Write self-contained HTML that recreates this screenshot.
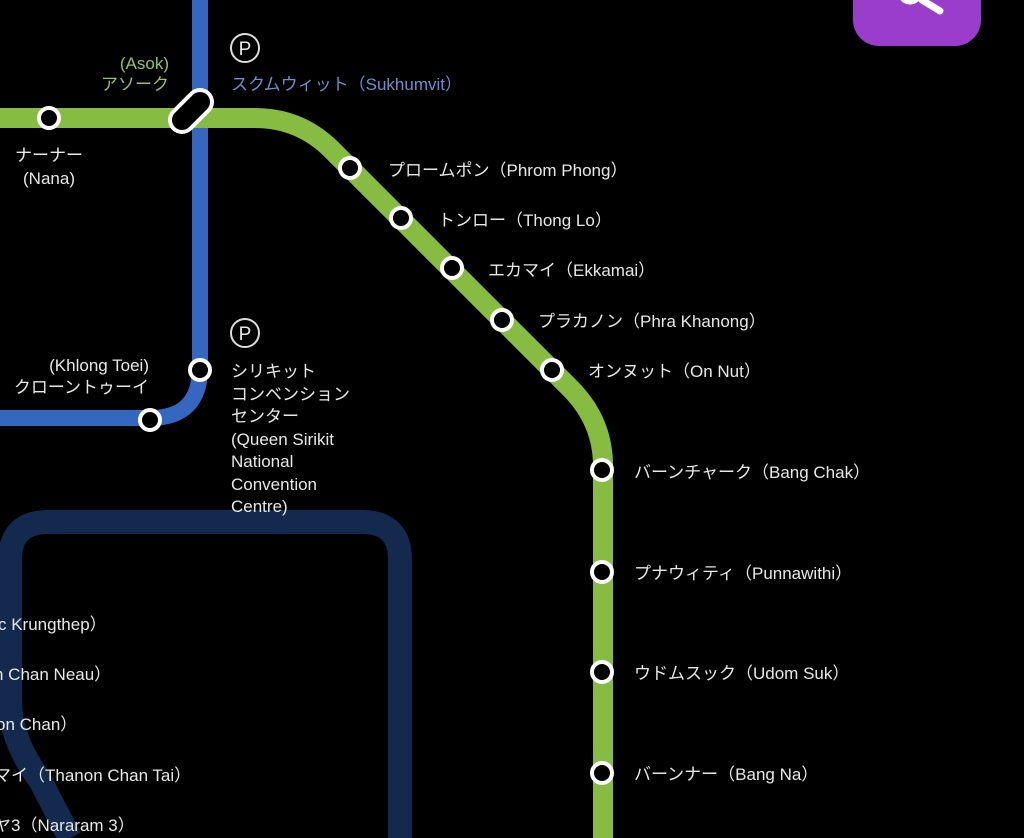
<!DOCTYPE html>
<html><head><meta charset="utf-8"><style>
html,body{margin:0;padding:0;background:#000;width:1024px;height:838px;overflow:hidden}
svg{display:block}
text{font-family:"Liberation Sans","Noto Sans CJK JP",sans-serif;font-size:17px;fill:#e8e8e8}
</style></head><body>
<svg width="1024" height="838" viewBox="0 0 1024 838">
<path d="M400 838 V560 Q400 522 362 522 H48 Q10 522 10 560 V700 Q10 740 40 780 L70 838" fill="none" stroke="#13294d" stroke-width="24"/>
<path d="M200 0 V368 Q200 418 150 418 H0" fill="none" stroke="#3566c0" stroke-width="16"/>
<path d="M0 118 H255 Q300 118 332 150 L570 388 Q603 421 603 466 V838" fill="none" stroke="#86bc42" stroke-width="20"/>
<g fill="#000" stroke="#fff" stroke-width="4">
<circle cx="49" cy="118" r="10"/>
<circle cx="350" cy="168" r="10"/>
<circle cx="401" cy="218" r="10"/>
<circle cx="452" cy="268" r="10"/>
<circle cx="502" cy="320" r="10"/>
<circle cx="552" cy="370" r="10"/>
<circle cx="602" cy="470" r="10"/>
<circle cx="602" cy="572" r="10"/>
<circle cx="602" cy="672" r="10"/>
<circle cx="602" cy="773" r="10"/>
<circle cx="200" cy="370" r="10"/>
<circle cx="150" cy="420" r="10"/>
</g>
<path d="M182 120 L200 102" stroke="#fff" stroke-width="28" stroke-linecap="round"/>
<path d="M182 120 L200 102" stroke="#000" stroke-width="20" stroke-linecap="round"/>
<g fill="none" stroke="#ddd" stroke-width="2"><circle cx="245" cy="48" r="14"/><circle cx="245" cy="333" r="14"/></g>
<text x="245" y="55" text-anchor="middle" style="font-size:19px">P</text>
<text x="245" y="340" text-anchor="middle" style="font-size:19px">P</text>
<text x="169" y="69" text-anchor="end" style="fill:#9ac060">(Asok)</text>
<text x="169" y="90" text-anchor="end" style="fill:#9ac060">アソーク</text>
<text x="231" y="90" style="fill:#6f8fd0">スクムウィット（Sukhumvit）</text>
<text x="49" y="161" text-anchor="middle">ナーナー</text>
<text x="49" y="184" text-anchor="middle">(Nana)</text>
<text x="388" y="176">プロームポン（Phrom Phong）</text>
<text x="438" y="226">トンロー（Thong Lo）</text>
<text x="488" y="276">エカマイ（Ekkamai）</text>
<text x="538" y="327">プラカノン（Phra Khanong）</text>
<text x="588" y="377">オンヌット（On Nut）</text>
<text x="634" y="478">バーンチャーク（Bang Chak）</text>
<text x="634" y="579">プナウィティ（Punnawithi）</text>
<text x="634" y="679">ウドムスック（Udom Suk）</text>
<text x="634" y="780">バーンナー（Bang Na）</text>
<text x="149" y="371" text-anchor="end">(Khlong Toei)</text>
<text x="149" y="393" text-anchor="end">クローントゥーイ</text>
<text x="231" y="377">シリキット</text>
<text x="231" y="400">コンベンション</text>
<text x="231" y="422">センター</text>
<text x="231" y="445">(Queen Sirikit</text>
<text x="231" y="467">National</text>
<text x="231" y="490">Convention</text>
<text x="231" y="512">Centre)</text>
<text x="-2" y="630">c Krungthep）</text>
<text x="-6" y="680">n Chan Neau）</text>
<text x="-4" y="730">on Chan）</text>
<text x="-6" y="781">マイ（Thanon Chan Tai）</text>
<text x="-6" y="831">ヤ3（Nararam 3）</text>
<rect x="853" y="-40" width="128" height="86" rx="26" fill="#9a3ccc"/>
<circle cx="910" cy="-8" r="10" fill="none" stroke="#fff" stroke-width="5"/>
<path d="M922 0 L940 11" stroke="#fff" stroke-width="7" stroke-linecap="round"/>
</svg>
</body></html>
